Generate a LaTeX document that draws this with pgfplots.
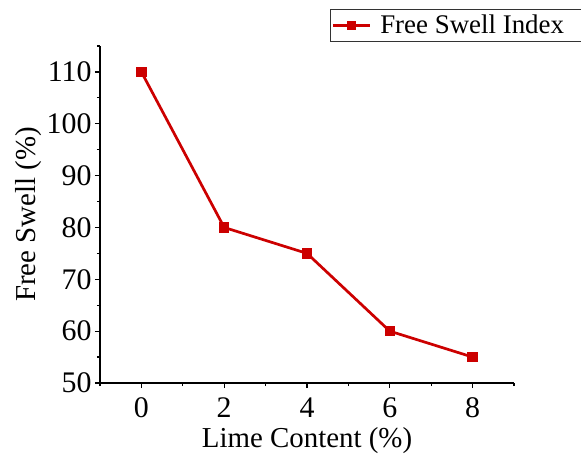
\documentclass[border=0pt]{standalone}
\usepackage{pgfplots}
\pgfplotsset{compat=1.18}
\usepackage{fontspec}
\setmainfont{Liberation Serif}
\definecolor{lred}{RGB}{204,0,0}
\begin{document}
\begin{tikzpicture}[x=1bp,y=1bp]
\begin{axis}[
  scale only axis,
  width=414bp, height=337bp,
  at={(0,0)}, anchor=south west,
  xmin=-1, xmax=9, ymin=50, ymax=115,
  axis lines=left,
  axis line style={-, line width=1.2bp},
  every outer x axis line/.append style={-},
  every outer y axis line/.append style={-},
  xtick={0,2,4,6,8},
  minor xtick={-1,1,3,5,7,9},
  ytick={50,60,70,80,90,100,110},
  minor ytick={55,65,75,85,95,105,115},
  tick align=outside,
  major tick length=5bp,
  minor tick length=3bp,
  tick style={line width=1.2bp, black},
  ticklabel style={font=\fontsize{30}{34}\selectfont},
  xticklabel style={anchor=base, yshift=-29bp},
  /pgf/number format/assume math mode=true,
  xlabel={Lime Content (\%)},
  ylabel={Free Swell (\%)},
  label style={font=\fontsize{29}{33}\selectfont},
  xlabel style={at={(axis description cs:0.5,-0.19)}, anchor=base},
  ylabel style={at={(axis description cs:-0.155,0.5)}, anchor=base},
  legend style={draw=black!80, line width=0.8bp, at={(0.556,1.11)}, anchor=north west,
    font=\fontsize{27}{31}\selectfont, inner xsep=1bp, inner ysep=4bp},
  legend image code/.code={
    \draw[#1, line width=2.7bp] (0bp,0bp) -- (37bp,0bp);
    \draw[#1, only marks, mark=square*, mark size=3.5bp] plot coordinates {(18.5bp,0bp)};
  },
  clip=false,
]
\addplot[color=lred, line width=2.7bp, mark=square*, mark size=3.8bp, mark options={solid}]
  coordinates {(0,110) (2,80) (4,75) (6,60) (8,55)};
\addlegendentry{\hspace{7bp}Free Swell Index\rule{14bp}{0bp}}
\end{axis}
\pgfresetboundingbox
\path (-100bp,-71bp) rectangle (481bp,383bp);
\end{tikzpicture}
\end{document}
